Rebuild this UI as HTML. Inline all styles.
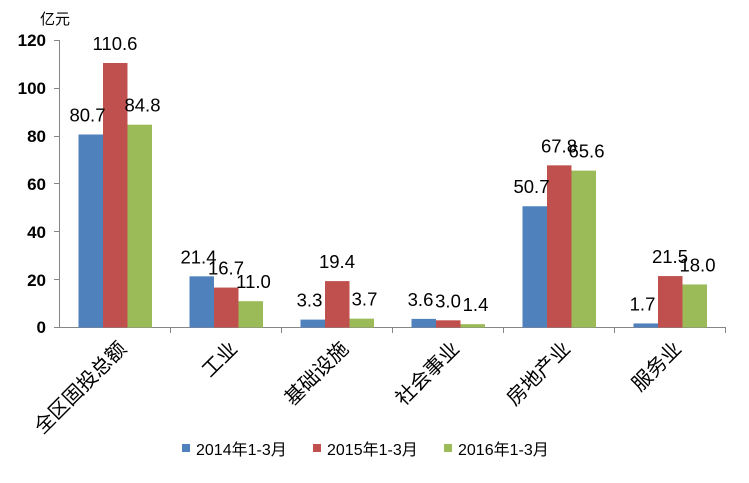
<!DOCTYPE html>
<html><head><meta charset="utf-8"><style>
html,body{margin:0;padding:0;background:#fff;}
svg text{font-family:"Liberation Sans","Noto Sans CJK SC",sans-serif;fill:#000;}
</style></head><body>
<svg width="749" height="478" xmlns="http://www.w3.org/2000/svg">
<rect width="749" height="478" fill="#fff"/>
<text x="40" y="24" font-size="15">亿元</text>
<g font-size="17" font-weight="bold" text-anchor="end">
<text x="46" y="46">120</text>
<text x="46" y="94">100</text>
<text x="46" y="142">80</text>
<text x="46" y="190">60</text>
<text x="46" y="238">40</text>
<text x="46" y="286">20</text>
<text x="46" y="333">0</text>
</g>
<g stroke="#868686" stroke-width="1">
<line x1="59.5" y1="40" x2="59.5" y2="327.5"/>
<line x1="59.5" y1="327.5" x2="726" y2="327.5"/>
<line x1="54" y1="40.5" x2="59.5" y2="40.5"/>
<line x1="54" y1="88.5" x2="59.5" y2="88.5"/>
<line x1="54" y1="136.5" x2="59.5" y2="136.5"/>
<line x1="54" y1="183.5" x2="59.5" y2="183.5"/>
<line x1="54" y1="231.5" x2="59.5" y2="231.5"/>
<line x1="54" y1="279.5" x2="59.5" y2="279.5"/>
<line x1="54" y1="327.5" x2="59.5" y2="327.5"/>
<line x1="170.5" y1="327" x2="170.5" y2="333"/>
<line x1="281.5" y1="327" x2="281.5" y2="333"/>
<line x1="392.5" y1="327" x2="392.5" y2="333"/>
<line x1="503.5" y1="327" x2="503.5" y2="333"/>
<line x1="614.5" y1="327" x2="614.5" y2="333"/>
<line x1="725.5" y1="327" x2="725.5" y2="333"/>
</g>
<g id="bars"></g>
<g id="labels" font-size="18.5" text-anchor="middle"></g>
<g id="cats" font-size="20" text-anchor="end"></g>
<rect x="182" y="444" width="8" height="8" fill="#4F81BD"/>
<text x="196" y="455" font-size="16">2014年1-3月</text>
<rect x="313" y="444" width="8" height="8" fill="#C0504D"/>
<text x="327" y="455" font-size="16">2015年1-3月</text>
<rect x="444" y="444" width="8" height="8" fill="#9BBB59"/>
<text x="458" y="455" font-size="16">2016年1-3月</text>
<script>
const d=[[80.7,110.6,84.8],[21.4,16.7,11.0],[3.3,19.4,3.7],[3.6,3.0,1.4],[50.7,67.8,65.6],[1.7,21.5,18.0]];
const cats=["全区固投总额","工业","基础设施","社会事业","房地产业","服务业"];
const cols=["#4F81BD","#C0504D","#9BBB59"];
const ns="http://www.w3.org/2000/svg";
const B=document.getElementById("bars"),L=document.getElementById("labels"),C=document.getElementById("cats");
const k=287/120;
d.forEach((g,i)=>{const s=59.5+111*i;
g.forEach((v,j)=>{const x=s+19+j*24.5,h=v*k;
const r=document.createElementNS(ns,"rect");r.setAttribute("x",x);r.setAttribute("y",327.5-h);r.setAttribute("width",24.5);r.setAttribute("height",h);r.setAttribute("fill",cols[j]);B.appendChild(r);
const t=document.createElementNS(ns,"text");t.setAttribute("x",x+12+(j-1)*3);t.setAttribute("y",327.5-h-13);t.textContent=v.toFixed(1);L.appendChild(t);});
const c=document.createElementNS(ns,"text");const cx=s+68,cy=350;c.setAttribute("x",cx);c.setAttribute("y",cy);c.setAttribute("transform",`rotate(-45 ${cx} ${cy})`);c.textContent=cats[i];C.appendChild(c);});
</script>
</svg>
</body></html>
